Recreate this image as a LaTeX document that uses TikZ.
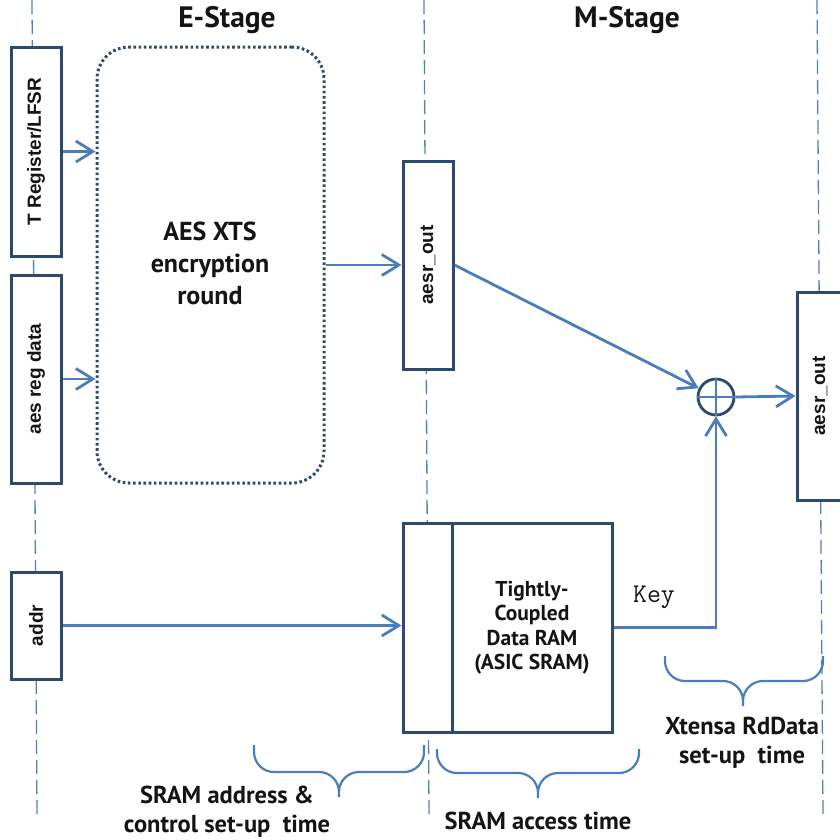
\documentclass[tikz,border=0pt]{standalone}
\usepackage{fontspec}
\setmainfont{PT Sans}
\newfontfamily\regfont{Liberation Sans}
\usetikzlibrary{arrows.meta,calc}
\definecolor{navy}{HTML}{2C4A6E}
\definecolor{wire}{HTML}{4A7EBB}
\definecolor{guide}{HTML}{4F81BD}
\definecolor{ink}{HTML}{141414}
\begin{document}
\begin{tikzpicture}[x=1pt,y=-1pt,
  regbox/.style={draw=navy, line width=3pt, fill=white, rectangle, inner sep=0pt},
  vlabel/.style={rotate=90, text=ink, font=\fontsize{19}{24}\regfont\bfseries},
  wireline/.style={draw=wire, line width=2.8pt},
  arr/.style={wireline, -{Straight Barb[length=17pt,width=21pt]}},
  guideline/.style={draw=guide, line width=1.3pt, dash pattern=on 14pt off 6pt},
  bracestroke/.style={draw=wire, line width=2.2pt, rounded corners=20pt},
  title/.style={text=ink, font=\fontsize{29.5}{32}\selectfont\bfseries},
  note/.style={text=ink, align=center, font=\fontsize{24.5}{29}\selectfont\bfseries}
]
\useasboundingbox (0,0) rectangle (840,839);

% stage boundaries
\draw[guideline] (32,0) -- (37,817);
\draw[guideline] (424,0) -- (429,816);
\draw[guideline] (817,0) -- (823,815);

% stage titles
\node[title] (estage) at (227,20) {E-Stage};
\node[title] (mstage) at (627,20) {M-Stage};

% input registers
\node[regbox, minimum width=50, minimum height=209] (treg) at (36,151.5) {};
\node[vlabel] at (treg) {T Register/LFSR};
\node[regbox, minimum width=50, minimum height=208] (areg) at (36,379) {};
\node[vlabel] at (areg) {aes reg data};
\node[regbox, minimum width=50, minimum height=107] (addr) at (36,625.5) {};
\node[vlabel] at (addr) {addr};

% encryption round
\node[draw=navy, line width=3pt, dash pattern=on 2.6pt off 2.6pt,
      rounded corners=32pt, minimum width=227, minimum height=436] (aes) at (210.5,265) {};
\node[align=center, text=ink, font=\fontsize{26}{32}\selectfont\bfseries] at (210,263) {AES XTS\\encryption\\round};

% pipeline registers
\node[regbox, minimum width=50, minimum height=208] (ao1) at (428,265) {};
\node[vlabel] at (ao1) {aesr\_out};
\node[regbox, minimum width=50, minimum height=208] (ao2) at (822,396) {};
\node[vlabel] at (ao2.center -| 820,0) {aesr\_out};

% data RAM
\node[regbox, minimum width=49, minimum height=209] (tcdport) at (427.5,627.5) {};
\node[regbox, minimum width=160, minimum height=209, align=center, text=ink,
      font=\fontsize{21.5}{24.5}\selectfont\bfseries] (tcd) at (532,627.5)
      {Tightly-\\Coupled\\Data RAM\\(ASIC SRAM)};

% xor
\node[circle, draw=navy, line width=2.8pt, fill=white, minimum size=36, inner sep=0pt] (xor) at (716,397) {};
\draw[draw=wire, line width=2pt] (xor.west) -- (xor.east) (xor.north) -- (xor.south);

% connections
\draw[arr] (treg.east) -- (treg.east -| aes.west);
\draw[arr] (areg.east) -- (areg.east -| aes.west);
\draw[arr] (aes.east) -- (ao1.west);
\draw[arr] (ao1.east) -- (xor);
\draw[arr] (xor.east) -- (ao2.west);
\draw[arr] (addr.east) -- (addr.east -| tcdport.west);
\draw[arr] (tcd.east) -| (xor.south);
\node[text=ink, font=\fontsize{27}{30}\ttfamily] (key) at (654,597) {Key};

% timing braces
\draw[bracestroke] (254,745) |- (339,772) -- (339,797)
                   (424,745) |- (339,772) -- (339,797);
\draw[bracestroke] (437,749) |- (538,773) -- (538,798)
                   (639,749) |- (538,773) -- (538,798);
\draw[bracestroke] (665,656) |- (743,681) -- (743,706)
                   (823,656) |- (743,681) -- (743,706);
\node[note] (t1) at (227,812) {SRAM address \&\\control set-up\ \ time};
\node[note] (t2) at (538,821) {SRAM access time};
\node[note] (t3) at (742,743) {Xtensa RdData\\set-up\ \ time};
\end{tikzpicture}
\end{document}
